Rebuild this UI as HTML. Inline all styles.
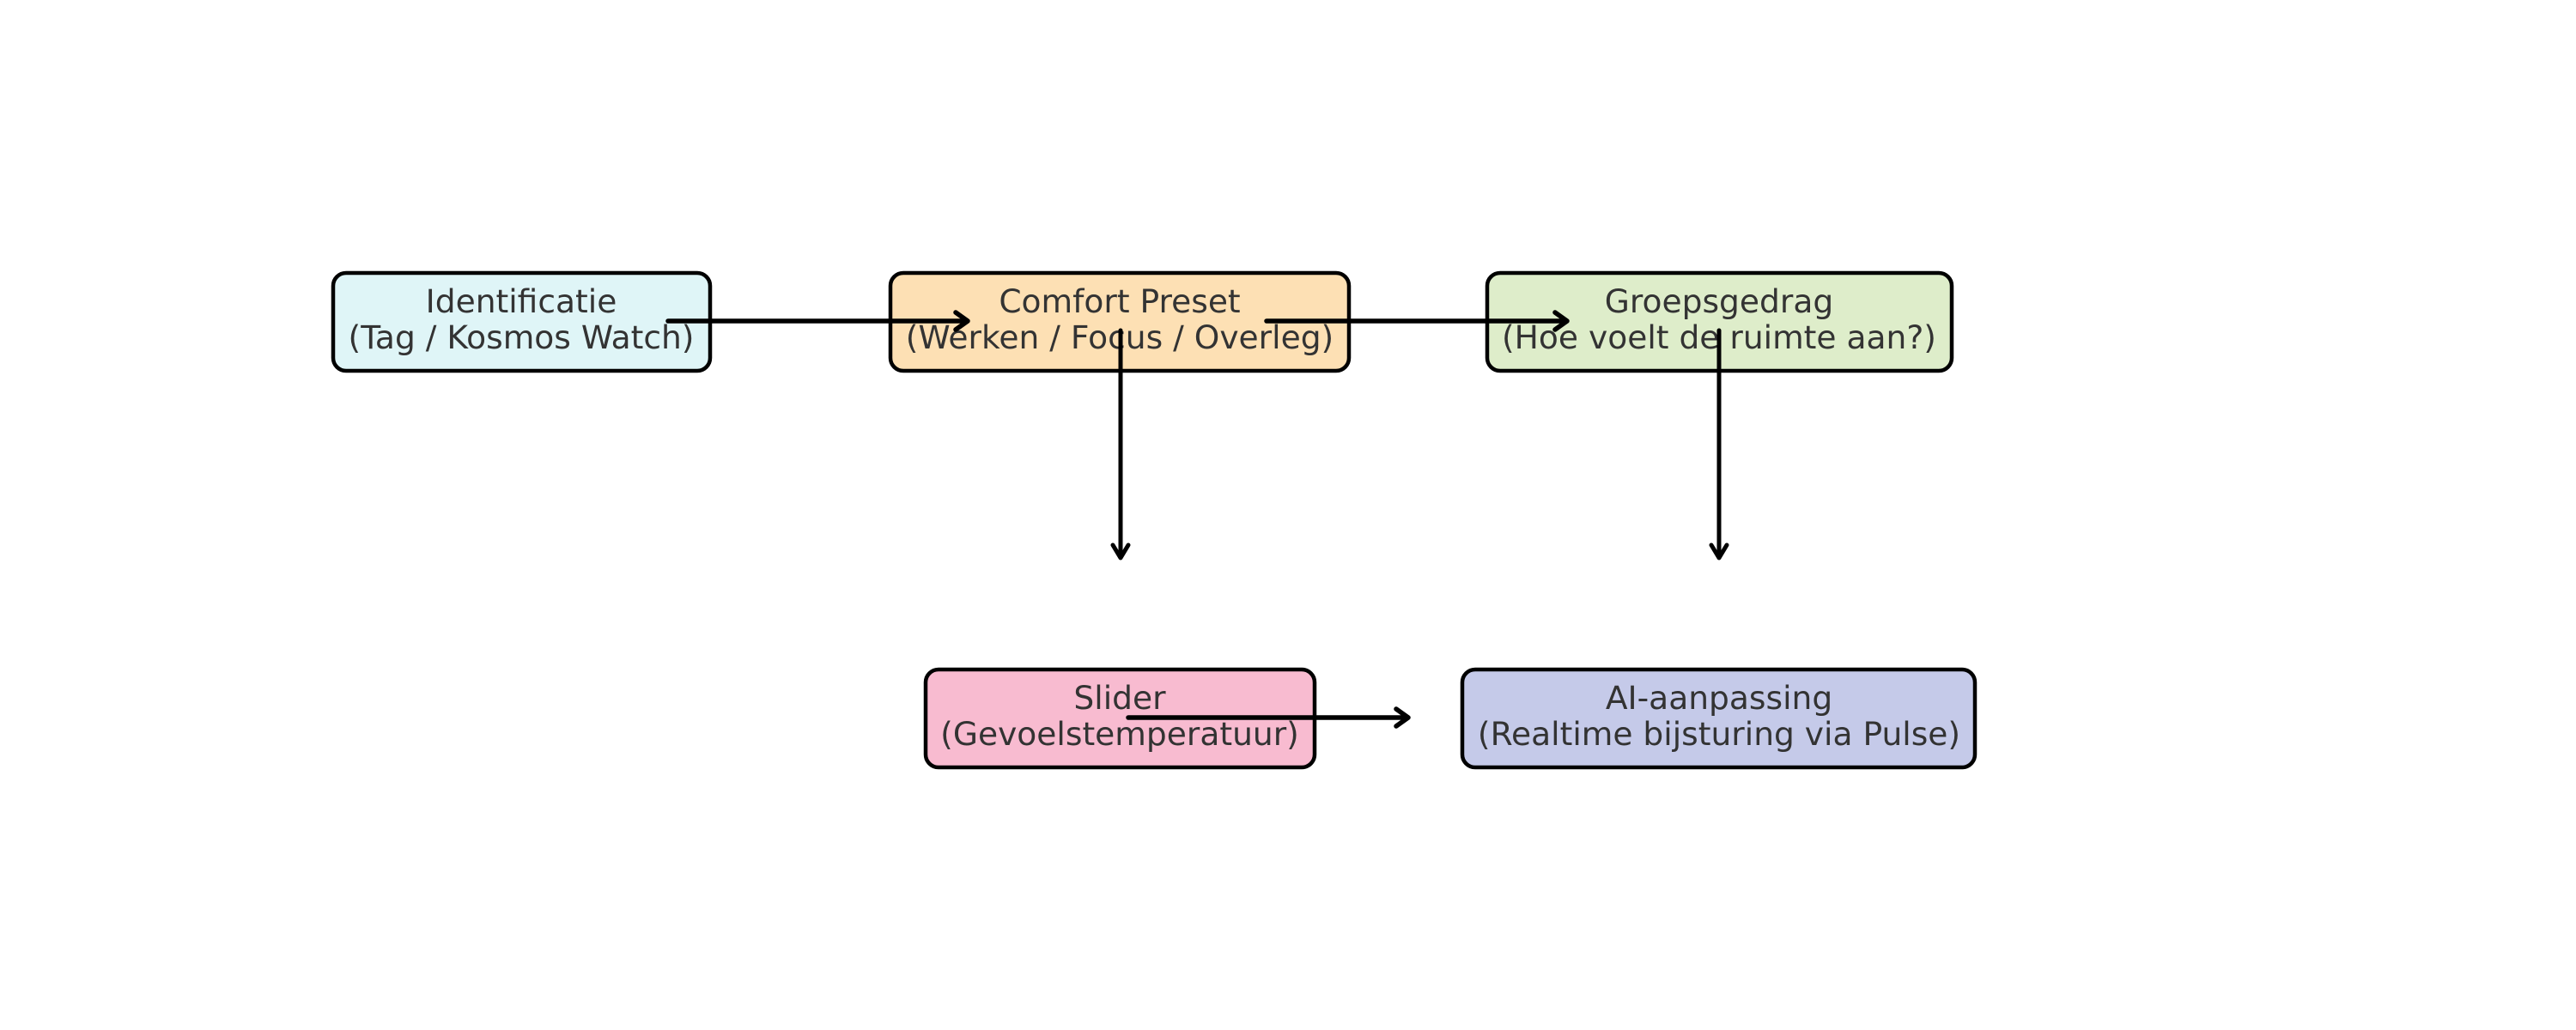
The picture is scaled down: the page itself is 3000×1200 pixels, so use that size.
<!DOCTYPE html>
<html><head><meta charset="utf-8"><style>html,body{margin:0;padding:0;background:#fff}svg{display:block}</style></head>
<body>
<svg width="3000" height="1200" xmlns="http://www.w3.org/2000/svg" font-family="DejaVu Sans, Liberation Sans, sans-serif" font-size="37.6" fill="#333">
<g stroke="#000" stroke-width="4.5">
<rect x="388" y="318" width="439" height="114" rx="15" fill="#dff5f7"/>
<rect x="1037" y="318" width="534" height="114" rx="15" fill="#fde0b4"/>
<rect x="1732" y="318" width="541" height="114" rx="15" fill="#deedca"/>
<rect x="1078" y="780" width="453" height="114" rx="15" fill="#f8bbd0"/>
<rect x="1703" y="780" width="597" height="114" rx="15" fill="#c5cae9"/>
</g>
<g text-anchor="middle">
<text x="607" y="364">Identificatie</text><text x="607" y="406">(Tag / Kosmos Watch)</text>
<text x="1304" y="364">Comfort Preset</text><text x="1304" y="406">(Werken / Focus / Overleg)</text>
<text x="2002" y="364">Groepsgedrag</text><text x="2002" y="406">(Hoe voelt de ruimte aan?)</text>
<text x="1304" y="826">Slider</text><text x="1304" y="868">(Gevoelstemperatuur)</text>
<text x="2002" y="826">AI-aanpassing</text><text x="2002" y="868">(Realtime bijsturing via Pulse)</text>
</g>
<g stroke="#000" fill="none" stroke-linecap="round" stroke-linejoin="round">
<g stroke-width="5.5">
<path d="M778 374H1127M1113 364L1127 374L1113 384"/>
<path d="M1475 374H1825M1811 364L1825 374L1811 384"/>
<path d="M1314 836H1640M1626 826L1640 836L1626 846"/>
</g>
<g stroke-width="5">
<path d="M1305 385V650M1296 635L1305 650L1314 635"/>
<path d="M2002 385V650M1993 635L2002 650L2011 635"/>
</g>
</g>
</svg>
</body></html>
